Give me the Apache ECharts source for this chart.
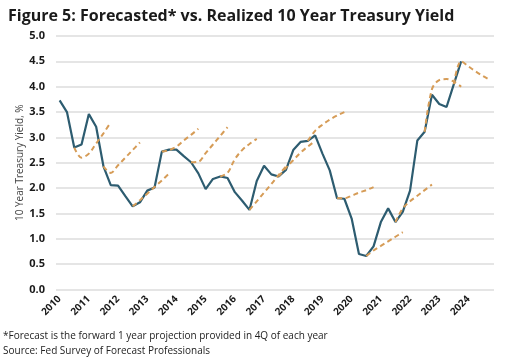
<!DOCTYPE html>
<html>
<head>
<meta charset="utf-8">
<script src="https://cdn.jsdelivr.net/npm/echarts@6/dist/echarts.min.js"></script>
<style>html,body{margin:0;padding:0;background:#fff}#c{width:516px;height:361px}</style>
</head>
<body>
<div id="c"></div>
<script>
const years = [2010, 2011, 2012, 2013, 2014, 2015, 2016, 2017, 2018, 2019, 2020, 2021, 2022, 2023, 2024];
const quarters = ['Q1', 'Q2', 'Q3', 'Q4'];
const categories = years.flatMap(y => quarters.map(q => y + q));

// Realized quarterly 10Y yield, 2010Q1 .. 2023Q4
const realized = [3.73, 3.50, 2.80, 2.86, 3.46, 3.21, 2.43, 2.06,
  2.05, 1.84, 1.64, 1.72, 1.95, 2.01, 2.72, 2.76,
  2.76, 2.63, 2.51, 2.29, 1.98, 2.18, 2.23, 2.20,
  1.92, 1.75, 1.57, 2.14, 2.44, 2.27, 2.23, 2.36,
  2.75, 2.91, 2.93, 3.04, 2.68, 2.35, 1.80, 1.79,
  1.40, 0.70, 0.66, 0.85, 1.33, 1.60, 1.33, 1.53,
  1.95, 2.94, 3.11, 3.84, 3.66, 3.60, 4.05, 4.50];

// Forecast paths (starting at Q3 realized, then Q4 and next year's quarters)
const fc2010 = [2.80, 2.60, 2.68, 2.88, 3.08, 3.30];
const fc2011 = [2.43, 2.30, 2.45, 2.60, 2.75, 2.90];
const fc2012 = [1.64, 1.76, 1.89, 2.02, 2.15, 2.29];
const fc2013 = [2.72, 2.75, 2.82, 2.94, 3.05, 3.17];
const fc2014 = [2.51, 2.52, 2.69, 2.86, 3.03, 3.20];
const fc2015 = [2.23, 2.30, 2.57, 2.75, 2.87, 2.97];
const fc2016 = [1.57, 1.74, 1.91, 2.08, 2.26, 2.43];
const fc2017 = [2.23, 2.40, 2.55, 2.70, 2.82, 2.93];
const fc2018 = [2.93, 3.13, 3.25, 3.35, 3.43, 3.50];
const fc2019 = [1.80, 1.80, 1.85, 1.91, 1.96, 2.02];
const fc2020 = [0.66, 0.77, 0.86, 0.95, 1.04, 1.13];
const fc2021 = [1.33, 1.60, 1.74, 1.85, 1.96, 2.07];
const fc2022 = [3.11, 3.95, 4.13, 4.15, 4.10, 4.00];
const fc2023 = [4.05, 4.50, 4.40, 4.30, 4.21, 4.13];
const forecastStarts = ['2010Q3', '2011Q3', '2012Q3', '2013Q3', '2014Q3', '2015Q3', '2016Q3',
  '2017Q3', '2018Q3', '2019Q3', '2020Q3', '2021Q3', '2022Q3', '2023Q3'];
const forecasts = [fc2010, fc2011, fc2012, fc2013, fc2014, fc2015, fc2016,
  fc2017, fc2018, fc2019, fc2020, fc2021, fc2022, fc2023];

const FONT = '"Open Sans", "Noto Sans", sans-serif';
const chart = echarts.init(document.getElementById('c'), null, { renderer: 'canvas' });

const series = [{
  type: 'line',
  name: 'Realized',
  data: realized,
  symbol: 'none',
  lineStyle: { color: '#2D5C70', width: 2.2 },
  z: 2
}];
forecasts.forEach((vals, k) => {
  const s = categories.indexOf(forecastStarts[k]);
  series.push({
    type: 'line',
    name: 'Forecast ' + years[k],
    data: vals.map((v, i) => [categories[s + i], v]),
    symbol: 'none',
    smooth: 0.35,
    lineStyle: { color: '#D69C57', width: 2, type: [5, 3.5] },
    z: 3
  });
});

chart.setOption({
  animation: false,
  title: {
    text: 'Figure 5: Forecasted* vs. Realized 10 Year Treasury Yield',
    left: 3, top: 3,
    textStyle: { fontFamily: FONT, fontSize: 16, fontWeight: 'bold', color: '#1a1a1a' }
  },
  grid: { left: 56, right: 22, top: 36, bottom: 71.5 },
  xAxis: {
    type: 'category',
    data: categories,
    boundaryGap: true,
    axisLine: { show: false },
    axisTick: { show: false },
    axisLabel: {
      interval: 3,
      rotate: 45,
      margin: 8,
      fontFamily: FONT, fontSize: 10, fontWeight: 'bold', color: '#1a1a1a',
      formatter: v => v.slice(0, 4)
    }
  },
  yAxis: {
    type: 'value',
    min: 0, max: 5, interval: 0.5,
    name: '10 Year Treasury Yield, %',
    nameLocation: 'middle',
    nameGap: 31,
    nameMoveOverlap: false,
    nameTextStyle: { fontFamily: FONT, fontSize: 10, color: '#444' },
    axisLine: { show: false },
    axisTick: { show: false },
    axisLabel: {
      margin: 11,
      fontFamily: FONT, fontSize: 11, fontWeight: 'bold', color: '#1a1a1a',
      formatter: v => v.toFixed(1)
    },
    splitLine: { lineStyle: { color: '#dcdcdc', width: 1.5 } }
  },
  graphic: [
    { type: 'text', left: 3, top: 331,
      style: { text: '*Forecast is the forward 1 year projection provided in 4Q of each year',
        font: '10px ' + FONT, fill: '#222' } },
    { type: 'text', left: 3, top: 346,
      style: { text: 'Source: Fed Survey of Forecast Professionals',
        font: '10px ' + FONT, fill: '#222' } }
  ],
  series: series
});
</script>
</body>
</html>
